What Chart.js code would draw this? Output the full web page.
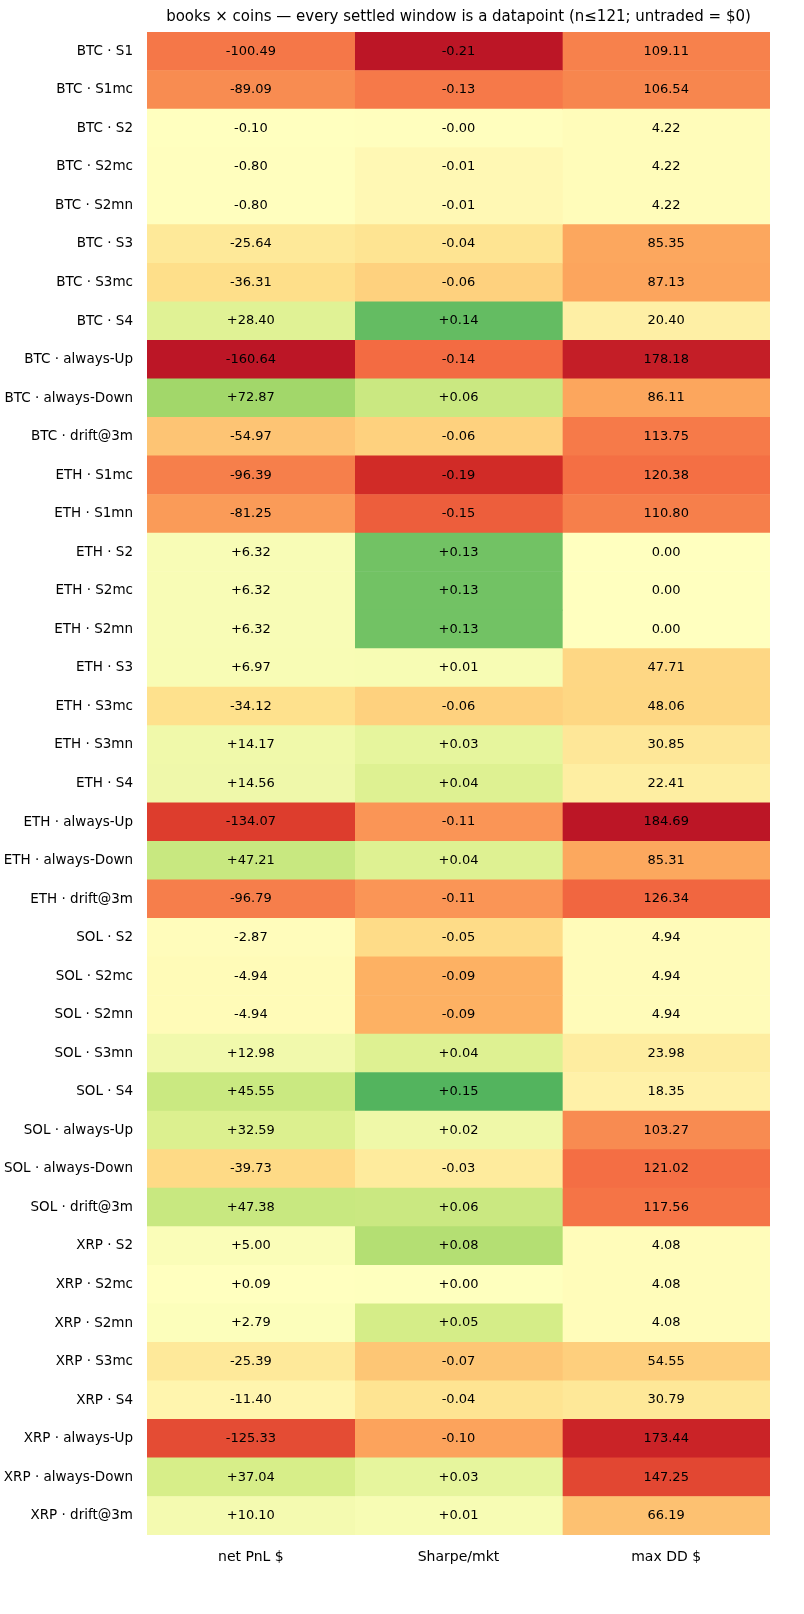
<!DOCTYPE html>
<html><head><meta charset="utf-8">
<script src="https://cdn.jsdelivr.net/npm/chart.js@4/dist/chart.umd.min.js"></script>
<style>body{margin:0;background:#fff}</style>
</head><body>
<canvas id="c" width="804" height="1614"></canvas>
<script>
const rows = ["BTC · S1","BTC · S1mc","BTC · S2","BTC · S2mc","BTC · S2mn","BTC · S3","BTC · S3mc","BTC · S4","BTC · always-Up","BTC · always-Down","BTC · drift@3m",
  "ETH · S1mc","ETH · S1mn","ETH · S2","ETH · S2mc","ETH · S2mn","ETH · S3","ETH · S3mc","ETH · S3mn","ETH · S4","ETH · always-Up","ETH · always-Down","ETH · drift@3m",
  "SOL · S2","SOL · S2mc","SOL · S2mn","SOL · S3mn","SOL · S4","SOL · always-Up","SOL · always-Down","SOL · drift@3m",
  "XRP · S2","XRP · S2mc","XRP · S2mn","XRP · S3mc","XRP · S4","XRP · always-Up","XRP · always-Down","XRP · drift@3m"];
const columns = ["net PnL $","Sharpe/mkt","max DD $"];
const netPnl = [-100.49,-89.09,-0.10,-0.80,-0.80,-25.64,-36.31,28.40,-160.64,72.87,-54.97,
  -96.39,-81.25,6.32,6.32,6.32,6.97,-34.12,14.17,14.56,-134.07,47.21,-96.79,
  -2.87,-4.94,-4.94,12.98,45.55,32.59,-39.73,47.38,
  5.00,0.09,2.79,-25.39,-11.40,-125.33,37.04,10.10];
const sharpe = [-0.21,-0.13,-0.001,-0.01,-0.01,-0.04,-0.06,0.14,-0.14,0.06,-0.06,
  -0.19,-0.15,0.13,0.13,0.13,0.01,-0.06,0.03,0.04,-0.11,0.04,-0.11,
  -0.05,-0.09,-0.09,0.04,0.15,0.02,-0.03,0.06,
  0.08,0.001,0.05,-0.07,-0.04,-0.10,0.03,0.01];
const maxDD = [109.11,106.54,4.22,4.22,4.22,85.35,87.13,20.40,178.18,86.11,113.75,
  120.38,110.80,0.00,0.00,0.00,47.71,48.06,30.85,22.41,184.69,85.31,126.34,
  4.94,4.94,4.94,23.98,18.35,103.27,121.02,117.56,
  4.08,4.08,4.08,54.55,30.79,173.44,147.25,66.19];

const stops = ["#a50026","#d73027","#f46d43","#fdae61","#fee08b","#ffffbf","#d9ef8b","#a6d96a","#66bd63","#1a9850","#006837"];
function hex(h){return [1,3,5].map(i=>parseInt(h.substr(i,2),16));}
function cmap(t){
  t = Math.max(0, Math.min(1, t));
  const p = t*10, i = Math.min(9, Math.floor(p)), f = p - i;
  const a = hex(stops[i]), b = hex(stops[i+1]);
  return "rgb(" + a.map((v,k)=>Math.round(v+(b[k]-v)*f)).join(",") + ")";
}
function colors(vals, sign){
  const m = Math.max(...vals.map(Math.abs)) * 1.1;
  return vals.map(v => cmap(0.5 + sign*v/(2*m)));
}
const signed = v => (v >= 0 ? "+" : "") + v.toFixed(2);
const texts = [netPnl.map(signed), sharpe.map(signed), maxDD.map(v => v.toFixed(2))];
const cols = [colors(netPnl, 1), colors(sharpe, 1), colors(maxDD, -1)];

const datasets = cols.map((c, j) => ({
  data: rows.map(() => [j, j+1]),
  backgroundColor: c,
  borderWidth: 0,
  barPercentage: 1, categoryPercentage: 1, grouped: false,
  texts: texts[j]
}));

const labelPlugin = {
  id: "cellText",
  afterDatasetsDraw(chart){
    const ctx = chart.ctx, a = chart.chartArea;
    ctx.save();
    ctx.font = "13px 'DejaVu Sans'";
    ctx.fillStyle = "#000";
    ctx.textAlign = "center"; ctx.textBaseline = "middle";
    chart.data.datasets.forEach((ds, j) => {
      chart.getDatasetMeta(j).data.forEach((bar, i) => {
        ctx.fillText(ds.texts[i], (bar.x + bar.base)/2, bar.y);
      });
    });
    ctx.font = "15px 'DejaVu Sans'";
    ctx.fillText("books × coins — every settled window is a datapoint (n≤121; untraded = $0)", (a.left + a.right)/2, 17);
    ctx.restore();
  }
};

new Chart(document.getElementById("c"), {
  type: "bar",
  data: {labels: rows, datasets},
  plugins: [labelPlugin],
  options: {
    indexAxis: "y", responsive: false, animation: false,
    layout: {padding: {left: 0, right: 34, top: 32, bottom: 0}},
    plugins: {legend: {display: false}, tooltip: {enabled: false}},
    scales: {
      x: {
        type: "linear", min: 0, max: 3,
        grid: {display: false}, border: {display: false},
        afterBuildTicks: s => { s.ticks = [{value: 0.5},{value: 1.5},{value: 2.5}]; },
        afterFit: s => { s.height = 79; },
        ticks: {color: "#000", font: {family: "DejaVu Sans", size: 14}, padding: 6,
          callback: v => columns[Math.round(v - 0.5)]}
      },
      y: {
        grid: {display: false}, border: {display: false},
        afterFit: s => { s.width = 147; },
        ticks: {color: "#000", font: {family: "DejaVu Sans", size: 13.5}, padding: 6, autoSkip: false}
      }
    }
  }
});
</script>
</body></html>
